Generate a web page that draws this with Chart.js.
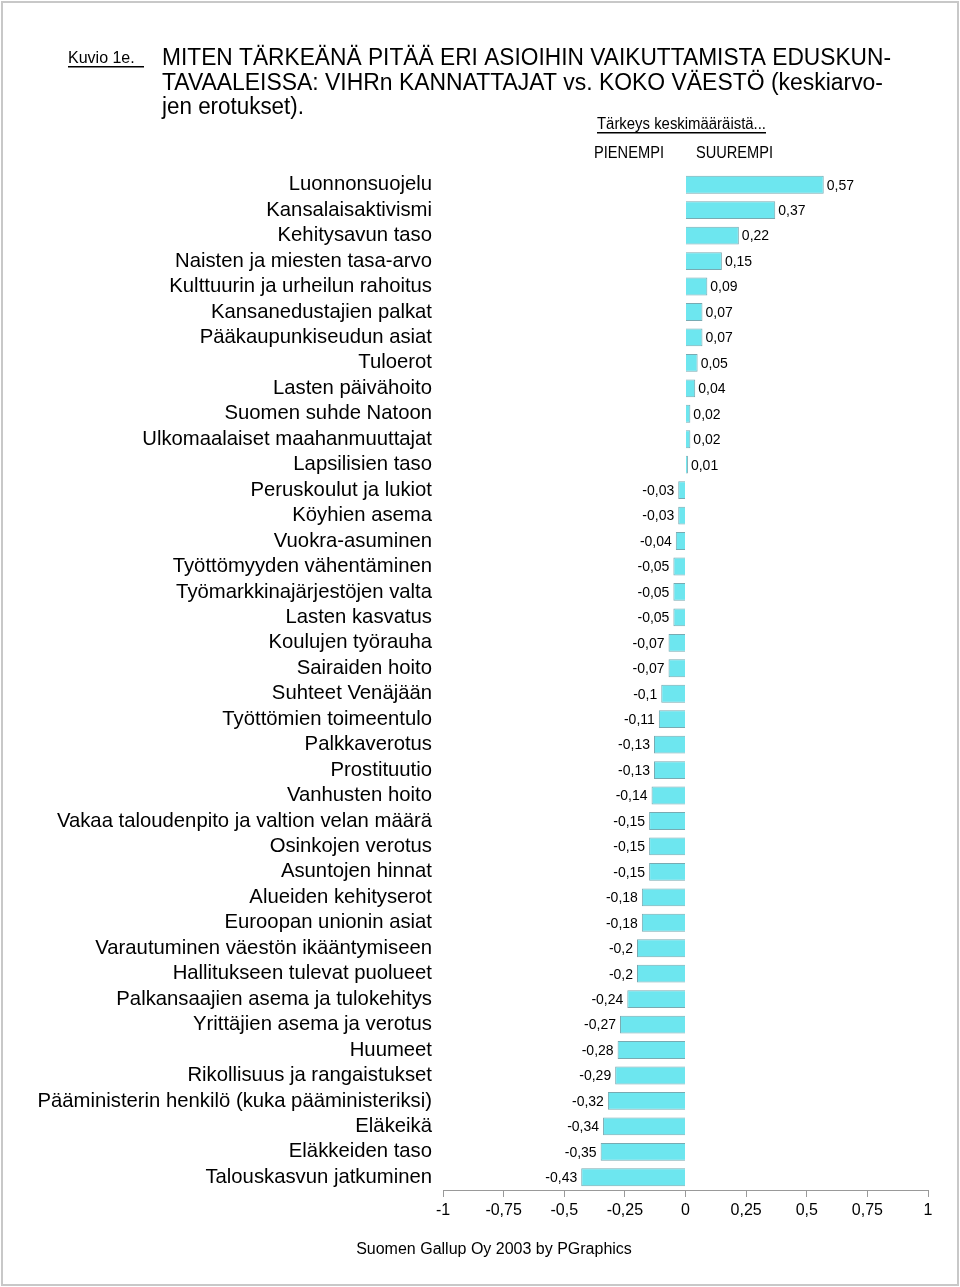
<!DOCTYPE html>
<html>
<head>
<meta charset="utf-8">
<script src="https://cdn.jsdelivr.net/npm/chart.js@4.4.0/dist/chart.umd.min.js"></script>
<style>
  html, body { margin: 0; padding: 0; background: #fff; }
  #wrap { position: relative; width: 960px; height: 1287px; }
  canvas { position: absolute; left: 0; top: 0; }
</style>
</head>
<body>
<div id="wrap">
  <canvas id="diff-chart" width="960" height="1287"></canvas>
</div>
<script>
// Categories (top to bottom) and differences of means
const issues = [
    'Luonnonsuojelu', 'Kansalaisaktivismi', 'Kehitysavun taso',
    'Naisten ja miesten tasa-arvo', 'Kulttuurin ja urheilun rahoitus',
    'Kansanedustajien palkat', 'Pääkaupunkiseudun asiat', 'Tuloerot',
    'Lasten päivähoito', 'Suomen suhde Natoon', 'Ulkomaalaiset maahanmuuttajat',
    'Lapsilisien taso', 'Peruskoulut ja lukiot', 'Köyhien asema',
    'Vuokra-asuminen', 'Työttömyyden vähentäminen', 'Työmarkkinajärjestöjen valta',
    'Lasten kasvatus', 'Koulujen työrauha', 'Sairaiden hoito', 'Suhteet Venäjään',
    'Työttömien toimeentulo', 'Palkkaverotus', 'Prostituutio', 'Vanhusten hoito',
    'Vakaa taloudenpito ja valtion velan määrä', 'Osinkojen verotus',
    'Asuntojen hinnat', 'Alueiden kehityserot', 'Euroopan unionin asiat',
    'Varautuminen väestön ikääntymiseen', 'Hallitukseen tulevat puolueet',
    'Palkansaajien asema ja tulokehitys', 'Yrittäjien asema ja verotus',
    'Huumeet', 'Rikollisuus ja rangaistukset',
    'Pääministerin henkilö (kuka pääministeriksi)', 'Eläkeikä',
    'Eläkkeiden taso', 'Talouskasvun jatkuminen'
];
const diffs = [
    0.57, 0.37, 0.22, 0.15, 0.09, 0.07, 0.07, 0.05, 0.04, 0.02, 0.02, 0.01,
    -0.03, -0.03, -0.04, -0.05, -0.05, -0.05, -0.07, -0.07, -0.1, -0.11,
    -0.13, -0.13, -0.14, -0.15, -0.15, -0.15, -0.18, -0.18, -0.2, -0.2,
    -0.24, -0.27, -0.28, -0.29, -0.32, -0.34, -0.35, -0.43
];
const xTicks = [-1, -0.75, -0.5, -0.25, 0, 0.25, 0.5, 0.75, 1];

const FONT = '"Liberation Sans", Arial, sans-serif';
const fmt = v => String(v).replace('.', ',');

// Value labels next to bar ends
const valueLabels = {
    id: 'valueLabels',
    afterDatasetsDraw(chart) {
        const c = chart.ctx;
        const meta = chart.getDatasetMeta(0);
        c.save();
        c.font = '14px ' + FONT;
        c.fillStyle = '#000';
        c.textBaseline = 'middle';
        meta.data.forEach((bar, i) => {
            const v = diffs[i];
            if (v >= 0) {
                c.textAlign = 'left';
                c.fillText(fmt(v), bar.x + 3, bar.y + 1);
            } else {
                c.textAlign = 'right';
                c.fillText(fmt(v), bar.x - 4, bar.y + 1);
            }
        });
        c.restore();
    }
};

// Title, headers, footer and page frame
const pageText = {
    id: 'pageText',
    afterDraw(chart) {
        const c = chart.ctx;
        c.save();
        c.strokeStyle = '#c8c8c8';
        c.lineWidth = 2;
        c.strokeRect(2, 2, 956, 1283);

        c.fillStyle = '#000';
        c.textBaseline = 'alphabetic';
        c.textAlign = 'left';

        c.font = '16px ' + FONT;
        c.fillText('Kuvio 1e.', 68, 63, 76);
        c.fillRect(68, 66, 76, 1.5);

        c.font = '23px ' + FONT;
        c.fillText('MITEN TÄRKEÄNÄ PITÄÄ ERI ASIOIHIN VAIKUTTAMISTA EDUSKUN-', 162, 65, 729);
        c.fillText('TAVAALEISSA: VIHRn KANNATTAJAT vs. KOKO VÄESTÖ (keskiarvo-', 162, 90, 721);
        c.fillText('jen erotukset).', 162, 114, 142);

        c.font = '16px ' + FONT;
        c.fillText('Tärkeys keskimääräistä...', 597, 129, 169);
        c.fillRect(597, 132, 169, 1.5);
        c.fillText('PIENEMPI', 594, 158, 70);
        c.fillText('SUUREMPI', 696, 158, 77);

        c.textAlign = 'center';
        c.fillText('Suomen Gallup Oy 2003 by PGraphics', 494, 1254);
        c.restore();
    }
};

new Chart(document.getElementById('diff-chart'), {
    type: 'bar',
    data: {
        labels: issues,
        datasets: [{
            data: diffs,
            backgroundColor: '#6de6ef',
            borderColor: '#78aab2',
            borderWidth: 1,
            barPercentage: 0.7,
            categoryPercentage: 1
        }]
    },
    options: {
        indexAxis: 'y',
        responsive: false,
        animation: false,
        layout: { padding: { top: 172, right: 32, left: 0, bottom: 0 } },
        plugins: {
            legend: { display: false },
            tooltip: { enabled: false }
        },
        scales: {
            y: {
                afterFit: scale => { scale.width = 443; },
                grid: { display: false, drawTicks: false },
                border: { display: false },
                ticks: {
                    padding: 11,
                    autoSkip: false,
                    color: '#000',
                    font: { family: FONT, size: 20.3 }
                }
            },
            x: {
                min: -1,
                max: 1,
                afterFit: scale => { scale.height = 97; },
                afterBuildTicks: scale => { scale.ticks = xTicks.map(v => ({ value: v })); },
                grid: { drawOnChartArea: false, drawTicks: true, tickLength: 7, color: '#999' },
                border: { display: true, color: '#999', width: 1 },
                ticks: {
                    padding: 4,
                    maxRotation: 0,
                    color: '#000',
                    font: { family: FONT, size: 16 },
                    callback: v => fmt(v)
                }
            }
        }
    },
    plugins: [valueLabels, pageText]
});
</script>
</body>
</html>
